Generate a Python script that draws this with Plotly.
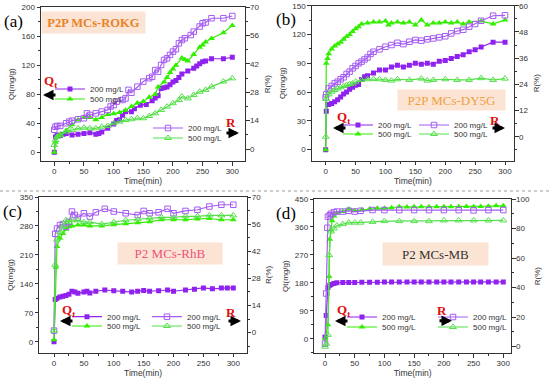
import plotly.graph_objects as go

W, H = 550, 382

# ---------------- data ----------------
# Panel (a) P2P MCs-ROKG
ta_q200 = [0, 2, 5, 10, 15, 20, 30, 40, 50, 60, 70, 75, 80, 90, 100, 105, 110, 115, 120, 130, 135, 145, 155, 165,
           170, 175, 180, 185, 190, 195, 200, 205, 210, 215, 225, 235, 240, 245, 250, 255, 265, 285, 300]
qa_200 = [0, 21, 24, 23, 25, 26, 24, 25, 26, 27, 25, 26, 28, 33, 39, 44, 45, 51, 56, 56, 60, 65, 66, 71,
          75, 78, 88, 89, 90, 93, 97, 99, 103, 108, 112, 116, 119, 122, 125, 126, 129, 129, 131]
ta_q500 = [0, 2, 5, 10, 20, 30, 40, 50, 55, 60, 70, 80, 90, 100, 110, 120, 130, 140, 150, 160, 170, 175, 185,
           190, 195, 200, 205, 215, 220, 225, 235, 245, 250, 255, 265, 285, 300]
qa_500 = [0, 14, 22, 25, 30, 38, 45, 48, 48, 48, 45, 48, 52, 53, 55, 58, 63, 68, 70, 76, 80, 90, 97,
          103, 110, 115, 120, 130, 128, 126, 135, 145, 148, 152, 157, 165, 175]
ta_r200 = [0, 2, 5, 10, 20, 25, 30, 40, 50, 55, 60, 70, 80, 90, 95, 100, 105, 115, 120, 125, 130, 140, 150, 160,
           165, 170, 175, 180, 185, 190, 195, 200, 205, 210, 215, 220, 230, 235, 245, 250, 255, 265, 285, 300]
ra_200 = [9.5, 11, 11.4, 11.4, 12.7, 13.5, 14, 14.7, 15.2, 17.6, 16.8, 17.6, 18.5, 19.3, 21, 21.7, 23.4, 24.2,
          25, 29.2, 27.8, 30.8, 33.3, 35, 35.7, 39, 38.2, 41.5, 44, 44.8, 46.5, 48.1, 49.3, 52.2, 53.8, 54.7,
          56.3, 58, 60.5, 62.1, 62.5, 64.6, 64.6, 65.7]
ta_r500 = [0, 2, 5, 10, 20, 30, 40, 50, 60, 70, 80, 90, 100, 110, 120, 130, 140, 150, 160, 170, 180, 190, 200,
           210, 215, 225, 235, 245, 255, 265, 285, 300]
ra_500 = [2, 4.4, 6, 6.9, 8.6, 9.4, 10.2, 10.5, 10.2, 10.2, 11, 11.4, 12.7, 13.5, 14.3, 14.7, 15.2, 15.2, 16.3,
          17.6, 19.3, 20.9, 22.6, 24.2, 25.9, 25, 26.7, 28.3, 29.2, 30.8, 33.3, 34.9]

# Panel (b) P2P MCs-DY5G
tb_q200 = [0, 1, 3, 5, 10, 15, 20, 25, 30, 35, 40, 45, 50, 55, 60, 65, 70, 80, 90, 100, 110, 120, 130, 140, 150,
           160, 170, 180, 190, 200, 210, 220, 230, 240, 250, 260, 280, 300]
qb_200 = [0, 40, 47, 47, 48, 50, 52, 55, 58, 60, 63, 65, 67, 68, 73, 76, 77, 80, 83, 83, 86, 88, 86, 88, 90,
          89, 90, 89, 92, 93, 95, 97, 99, 102, 104, 107, 112, 112]
tb_q500 = [0, 1, 3, 5, 10, 15, 20, 25, 30, 35, 40, 45, 50, 55, 60, 70, 80, 90, 100, 105, 110, 120, 130, 140,
           150, 160, 170, 180, 190, 200, 210, 220, 230, 240, 260, 280, 300]
qb_500 = [0, 90, 95, 100, 105, 108, 110, 112, 115, 118, 120, 123, 126, 128, 131, 132, 133, 133, 134, 130, 132,
          133, 132, 133, 130, 135, 130, 132, 132, 133, 132, 133, 131, 133, 134, 131, 135]
tb_r200 = [0, 1, 5, 10, 15, 20, 25, 30, 35, 40, 45, 50, 55, 60, 65, 70, 75, 80, 90, 100, 110, 120, 130, 140,
           150, 160, 170, 180, 190, 200, 210, 220, 230, 240, 250, 260, 280, 300]
rb_200 = [18, 19.4, 22.1, 23.2, 24.4, 25.2, 26.3, 27.2, 28.7, 29.8, 31.3, 32.4, 33.6, 34.4, 35.4, 36.3, 37.9,
          38.9, 40, 41.2, 42, 43, 42.4, 43.5, 44.3, 44, 44.6, 45, 45.5, 46, 47.3, 48.4, 49, 50.4, 51.6, 53.1,
          55.4, 55.6]
tb_r500 = [0, 1, 5, 10, 15, 20, 25, 30, 35, 40, 45, 50, 60, 70, 80, 90, 100, 110, 120, 140, 160, 170, 180, 200,
           220, 240, 260, 280, 300]
rb_500 = [0, 17.3, 19.4, 20.6, 21.4, 22.1, 22.6, 23.2, 23.7, 24.1, 24.4, 25.2, 26, 26.3, 26.4, 26.3, 26, 25.7,
          26.3, 26, 26.6, 25.7, 26, 26.3, 26, 26, 26.8, 26, 26.6]

# Panel (c) P2 MCs-RhB
tc_q200 = [0, 2, 5, 10, 15, 20, 25, 30, 35, 40, 50, 55, 60, 70, 85, 100, 115, 130, 140, 150, 160, 175, 190,
           200, 220, 235, 250, 265, 280, 290, 300]
qc_200 = [0, 102, 105, 108, 110, 112, 115, 122, 120, 117, 120, 122, 118, 122, 125, 123, 122, 120, 122, 124,
          122, 123, 125, 122, 125, 127, 130, 128, 130, 130, 130]
tc_q500 = [0, 3, 5, 10, 15, 20, 25, 30, 40, 50, 60, 80, 100, 120, 140, 160, 180, 200, 220, 240, 260, 280, 300]
qc_500 = [5, 180, 230, 250, 262, 272, 278, 280, 282, 282, 280, 280, 283, 285, 288, 290, 295, 295, 295, 297,
          298, 295, 295]
tc_r200 = [0, 2, 5, 10, 15, 20, 25, 30, 35, 40, 50, 60, 70, 85, 100, 120, 140, 150, 160, 175, 190, 200, 220,
           240, 260, 280, 300]
rc_200 = [1, 51, 53.7, 55.5, 56, 54.6, 57.2, 62.5, 60.7, 59.3, 61.6, 59.9, 62.1, 63.9, 62.5, 61.6, 60.7, 62.8,
          61.6, 62.1, 63.9, 61.6, 62.8, 63.4, 65.1, 66, 66]
tc_r500 = [0, 2, 5, 10, 15, 20, 25, 30, 40, 50, 60, 80, 100, 120, 140, 160, 180, 200, 220, 240, 260, 280, 300]
rc_500 = [1, 35, 48, 52, 55, 58, 57, 58, 58, 57, 57, 56, 57, 58, 58.5, 59, 59.5, 59.5, 60, 60, 60.5, 60.5, 60.5]

# Panel (d) P2 MCs-MB
td_q200 = [0, 1, 2, 5, 8, 10, 15, 20, 30, 40, 50, 62, 75, 88, 100, 112, 125, 138, 150, 162, 175, 188, 200, 212,
           225, 238, 250, 262, 275, 288, 300]
qd_200 = [5, 5, 75, 165, 172, 175, 178, 180, 181, 181, 181, 182, 182, 182, 183, 183, 183, 183, 183, 183, 183,
          183, 183, 183, 183, 183, 183, 183, 183, 183, 183]
td_q500 = [0, 5, 7, 8, 10, 12, 15, 20, 30, 40, 50, 62, 75, 88, 100, 112, 125, 138, 150, 162, 175, 188, 200, 212,
           225, 238, 250, 262, 275, 288, 300]
qd_500 = [0, 45, 200, 320, 350, 380, 395, 405, 410, 418, 412, 415, 418, 420, 420, 422, 425, 424, 425, 425, 425,
          425, 425, 425, 425, 426, 425, 426, 427, 428, 428]
td_r200 = [0, 2, 4, 5, 8, 10, 15, 20, 30, 40, 50, 60, 80, 100, 125, 150, 175, 200, 225, 250, 275, 300]
rd_200 = [2, 36, 80.5, 88, 89, 90, 91, 91.5, 91.5, 92, 91.5, 92, 92.5, 92.5, 92.5, 92.5, 92.5, 92.5, 92.5, 92.3,
          92.5, 92.5]
td_r500 = [0, 2, 5, 7, 10, 15, 20, 30, 40, 50, 60, 80, 100, 125, 150, 175, 200, 225, 250, 275, 300]
rd_500 = [0, 2, 8, 62, 78, 80, 82, 83, 84, 84, 84, 84.5, 85, 85, 85, 85, 85.5, 85.5, 85.5, 85.5, 85.5]

legend_labels = ["200 mg/L", "500 mg/L"]
panel_labels = ["(a)", "(b)", "(c)", "(d)"]
panel_titles = ["P2P MCs-ROKG", "P2P MCs-DY5G", "P2 MCs-RhB", "P2 MCs-MB"]
left_ticks = [[0, 40, 80, 120, 160, 200], [0, 30, 60, 90, 120, 150],
              [0, 70, 140, 210, 280, 350], [0, 90, 180, 270, 360, 450]]
right_ticks = [[0, 14, 28, 42, 56, 70], [0, 12, 24, 36, 48, 60],
               [0, 14, 28, 42, 56, 70], [0, 20, 40, 60, 80, 100]]
x_ticks = [0, 50, 100, 150, 200, 250, 300]

# ---------------- styling / layout ----------------
PUR = "#9022F0"
PUR_O = "#A55CF2"
GRN = "#33EE00"
GRN_O = "#55E04A"
SANS = "Liberation Sans, Arial, sans-serif"
SERIF = "Liberation Serif, Times New Roman, serif"
AX = "#333333"


def px(x):
    return x / W


def py(y):
    return 1 - y / H


panels = [
    dict(xd=[41, 245], yd=[7.3, 161], xr=[-22.4, 321.4], yl=[-12, 200], yr=[-5.93, 70]),
    dict(xd=[311.7, 514], yd=[5.7, 160.7], xr=[-23.4, 315], yl=[-11.5, 150], yr=[-11, 60]),
    dict(xd=[39.3, 246.7], yd=[197, 352.7], xr=[-24.6, 322.4], yl=[-26.6, 350], yr=[-10.4, 70]),
    dict(xd=[314.3, 511], yd=[199, 353.3], xr=[-18, 313], yl=[-47, 450], yr=[-4.5, 100]),
]

series = [
    [(ta_q200, qa_200, ta_q500, qa_500), (ta_r200, ra_200, ta_r500, ra_500)],
    [(tb_q200, qb_200, tb_q500, qb_500), (tb_r200, rb_200, tb_r500, rb_500)],
    [(tc_q200, qc_200, tc_q500, qc_500), (tc_r200, rc_200, tc_r500, rc_500)],
    [(td_q200, qd_200, td_q500, qd_500), (td_r200, rd_200, td_r500, rd_500)],
]

# legend marker centers (px) for [Qt200, Qt500, R200, R500]
leg_pos = [
    [(70, 89), (70, 99), (168, 128), (168, 138)],
    [(358, 125), (358, 134), (434, 125), (434, 134)],
    [(87, 316.7), (87, 326), (167, 316.7), (167, 326)],
    [(362, 317), (362, 327), (453, 317), (453, 327)],
]

fig = go.Figure()
layout = dict(width=W, height=H, margin=dict(l=0, r=0, t=0, b=0, autoexpand=False),
              paper_bgcolor="white", plot_bgcolor="white", showlegend=True,
              font=dict(family=SANS, size=8, color=AX))
annotations = []
shapes = []
leg_n = 0

for i, p in enumerate(panels):
    xa = "xaxis" if i == 0 else f"xaxis{i + 1}"
    xref = "x" if i == 0 else f"x{i + 1}"
    yl_n = 2 * i + 1
    yr_n = 2 * i + 2
    yla = "yaxis" if yl_n == 1 else f"yaxis{yl_n}"
    ylref = "y" if yl_n == 1 else f"y{yl_n}"
    yra = f"yaxis{yr_n}"
    yrref = f"y{yr_n}"
    dom_x = [px(p["xd"][0]), px(p["xd"][1])]
    dom_y = [py(p["yd"][1]), py(p["yd"][0])]
    common = dict(showline=True, linecolor=AX, linewidth=1, ticks="outside", ticklen=3.5, tickwidth=1,
                  tickcolor=AX, showgrid=False, zeroline=False, automargin=False,
                  tickfont=dict(size=8, family=SANS, color=AX))
    layout[xa] = dict(common, domain=dom_x, range=p["xr"], anchor=ylref, mirror=True,
                      tickvals=x_ticks, ticklabelstandoff=-1,
                      minor=dict(ticks="outside", ticklen=2, dtick=25, tick0=0, tickcolor=AX),
                      title=dict(text="Time(min)", font=dict(size=8.5, family=SANS, color=AX), standoff=0))
    lt = left_ticks[i]
    layout[yla] = dict(common, domain=dom_y, range=p["yl"], anchor=xref, tickvals=lt,
                       minor=dict(ticks="outside", ticklen=2, dtick=(lt[1] - lt[0]) / 2, tick0=0, tickcolor=AX),
                       title=dict(text="Qt(mg/g)", font=dict(size=8, family=SANS, color=AX), standoff=5))
    rt = right_ticks[i]
    layout[yra] = dict(common, range=p["yr"], anchor=xref, overlaying=ylref, side="right", tickvals=rt,
                       ticklabelstandoff=-1,
                       minor=dict(ticks="outside", ticklen=2, dtick=(rt[1] - rt[0]) / 2, tick0=0, tickcolor=AX),
                       title=dict(text="R(%)", font=dict(size=8, family=SANS, color=AX), standoff=5))

    (t1, q1, t2, q2), (t3, r1, t4, r2) = series[i]
    specs = [
        (t1, q1, ylref, dict(symbol="square", size=5, color=PUR), PUR, legend_labels[0]),
        (t2, q2, ylref, dict(symbol="triangle-up", size=6, color=GRN), GRN, legend_labels[1]),
        (t3, r1, yrref, dict(symbol="square-open", size=5.5, color=PUR_O, line=dict(width=1)), PUR_O, legend_labels[0]),
        (t4, r2, yrref, dict(symbol="triangle-up-open", size=6, color=GRN_O, line=dict(width=1)), GRN_O, legend_labels[1]),
    ]
    for k, (tx, vy, yref, mk, col, name) in enumerate(specs):
        leg_n += 1
        lname = "legend" if leg_n == 1 else f"legend{leg_n}"
        fig.add_trace(go.Scatter(x=tx, y=vy, xaxis=xref, yaxis=yref, mode="lines+markers", name=name,
                                 marker=mk, line=dict(color=col, width=1.2), legend=lname))
        cx, cy = leg_pos[i][k]
        layout[lname] = dict(x=px(cx - 20), y=py(cy), xanchor="left", yanchor="middle",
                             bgcolor="rgba(0,0,0,0)", borderwidth=0, itemwidth=30,
                             font=dict(size=8, family=SANS, color=AX))


def note(x, y, text, **kw):
    d = dict(x=px(x), y=py(y), xref="paper", yref="paper", text=text, showarrow=False,
             xanchor="center", yanchor="middle")
    d.update(kw)
    annotations.append(d)


# panel letters
for (lx, ly), lab in zip([(13, 21), (286, 20), (12, 211), (286, 213)], panel_labels):
    note(lx, ly, lab, font=dict(size=17, family=SERIF, color="black"))

# title boxes
box_specs = [
    ((93.5, 22.5), 103, 21, "#E8822A", True),
    ((451.5, 100.4), 107, 20, "#F0A040", False),
    ((170, 253.5), 104, 21, "#F0507A", False),
    ((435.5, 254), 105, 22, "#333333", False),
]
for ((cx, cy), bw, bh, col, bold), title in zip(box_specs, panel_titles):
    txt = f"<b>{title}</b>" if bold else title
    note(cx, cy, txt, width=bw, height=bh, bgcolor="#FCE4D4", borderpad=0,
         font=dict(size=12.5 if bold else 13, family=SERIF, color=col))

# Qt / R labels and arrows
qt_lab = [(50, 82), (343, 118), (68, 310), (343, 310)]
qt_arr = [(43, 95), (333, 128), (60, 321), (335, 321)]
r_lab = [(231, 123), (495, 120), (231, 312.7), (442, 310.7)]
r_arr = [(239, 133), (505, 128), (241, 321), (452, 320.7)]
for (lx, ly) in qt_lab:
    note(lx, ly, "<b>Q<sub>t</sub></b>", font=dict(size=13, family=SERIF, color="#E01010"))
for (ax_, ay_) in qt_arr:
    note(ax_, ay_, "", showarrow=True, ax=14, ay=0, arrowhead=2, arrowsize=0.7, arrowwidth=3,
         arrowcolor="black")
for (lx, ly) in r_lab:
    note(lx, ly, "<b>R</b>", font=dict(size=13, family=SERIF, color="#E01010"))
for (ax_, ay_) in r_arr:
    note(ax_, ay_, "", showarrow=True, ax=-14, ay=0, arrowhead=2, arrowsize=0.7, arrowwidth=3,
         arrowcolor="black")

# dotted separator
shapes.append(dict(type="line", xref="paper", yref="paper", x0=0, x1=1, y0=py(191), y1=py(191),
                   line=dict(color="#999999", width=1, dash="dot")))

layout["annotations"] = annotations
layout["shapes"] = shapes
fig.update_layout(**layout)
fig.write_html("out.html", config={"displayModeBar": False},
               post_script="document.body.style.margin='0px';")
